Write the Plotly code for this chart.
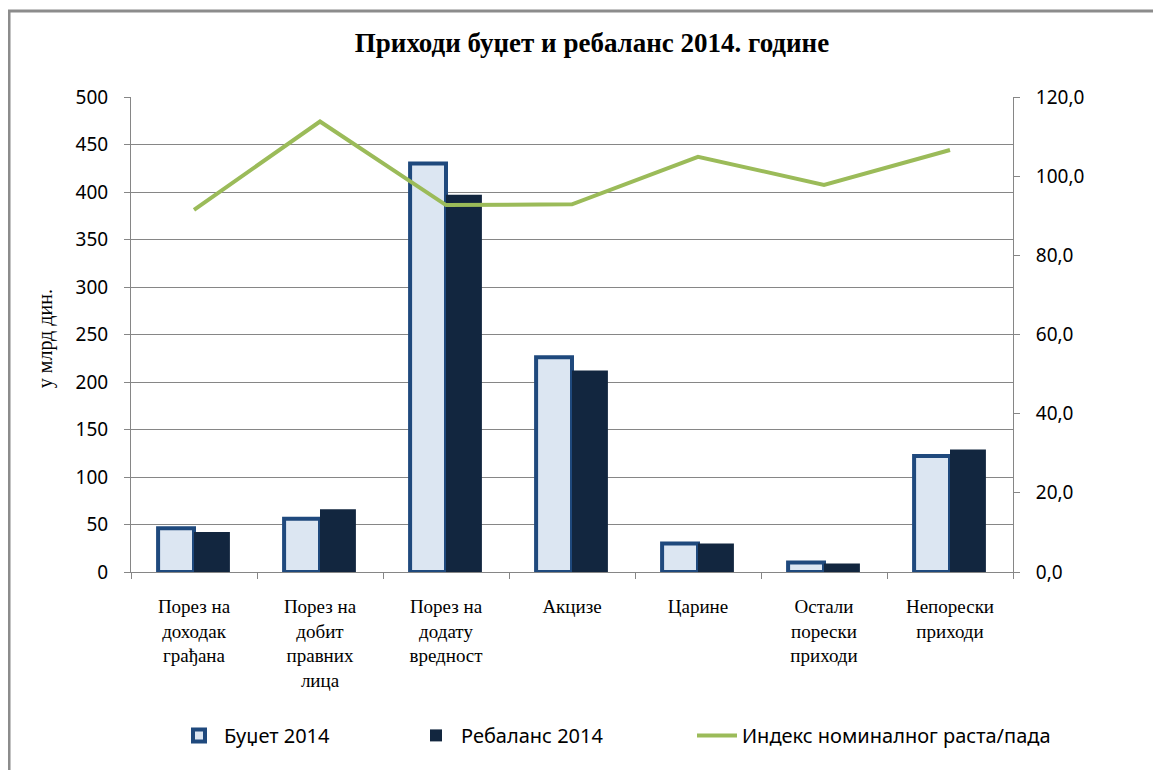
import plotly.graph_objects as go

kategorije = ['Порез на<br>доходак<br>грађана', 'Порез на<br>добит<br>правних<br>лица',
              'Порез на<br>додату<br>вредност', 'Акцизе', 'Царине',
              'Остали<br>порески<br>приходи', 'Непорески<br>приходи']
budzet = [46, 56, 430, 226, 30, 10, 122]
rebalans = [42, 66, 397, 212, 30, 9, 129]
indeks = [91.5, 113.8, 92.7, 92.9, 104.9, 97.8, 106.6]

lijevi_tick = list(range(0, 501, 50))
desni_tick = list(range(0, 121, 20))
desni_txt = [f"{v},0" for v in desni_tick]

sans = "Noto Sans"
serif = "Liberation Serif"

fig = go.Figure()
fig.add_trace(go.Bar(x=kategorije, y=budzet, name='Буџет 2014', legend='legend',
                     marker=dict(color='#DCE6F2', line=dict(color='#1F497D', width=4))))
fig.add_trace(go.Bar(x=kategorije, y=rebalans, name='Ребаланс 2014', legend='legend2',
                     marker=dict(color='#12263F', line=dict(width=0))))
fig.add_trace(go.Scatter(x=kategorije, y=indeks, name='Индекс номиналног раста/пада',
                         legend='legend3',
                         yaxis='y2', mode='lines', line=dict(color='#9BBB59', width=4)))

leg = dict(orientation='h', xanchor='left', y=-0.344, yanchor='middle',
           font=dict(family=sans, size=20, color='black'), itemwidth=40,
           bgcolor='rgba(0,0,0,0)')

# stranica ima 8px margine tijela, pa se to oduzima
fig.update_layout(
    width=1161, height=770,
    margin=dict(l=123, r=156, t=89, b=206),
    paper_bgcolor='white', plot_bgcolor='white',
    barmode='group', bargap=0.43, bargroupgap=0,
    showlegend=True,
    title=dict(text='<b>Приходи буџет и ребаланс 2014. године</b>', x=0.503, xanchor='center',
               y=0.955, yanchor='middle', font=dict(family=serif, size=27, color='black')),
    legend=dict(leg, x=(174 - 131) / 882),
    legend2=dict(leg, x=(411 - 131) / 882),
    legend3=dict(leg, x=(692 - 131) / 882),
    xaxis=dict(type='category', showline=True, linecolor='#868686', linewidth=1,
               ticks='outside', tickson='boundaries', ticklen=6, tickcolor='#868686',
               ticklabelstandoff=17,
               tickfont=dict(family=serif, size=19, color='black'), showgrid=False),
    yaxis=dict(range=[0, 500], tickvals=lijevi_tick, showline=True, linecolor='#868686',
               ticks='outside', ticklen=6, tickcolor='#868686', showgrid=True,
               gridcolor='#868686', gridwidth=1, zeroline=False, ticklabelstandoff=12,
               tickfont=dict(family=sans, size=19, color='black')),
    yaxis2=dict(range=[0, 120], tickvals=desni_tick, ticktext=desni_txt, overlaying='y',
                side='right', showline=True, linecolor='#868686', ticks='outside',
                ticklen=6, tickcolor='#868686', showgrid=False, zeroline=False,
                ticklabelstandoff=12,
                tickfont=dict(family=sans, size=19, color='black')),
)

fig.add_annotation(text='у млрд дин.', xref='paper', yref='paper', x=0, y=0.49,
                   xanchor='center', yanchor='middle',
                   xshift=-86, textangle=-90, showarrow=False,
                   font=dict(family=serif, size=20, color='black'))

# okvir grafikona
fig.add_shape(type='rect', xref='paper', yref='paper', x0=-0.1383, x1=1.5, y0=-0.8, y1=1.181,
              line=dict(color='#8C8C8C', width=3), layer='below')

fig.write_html("out.html")
